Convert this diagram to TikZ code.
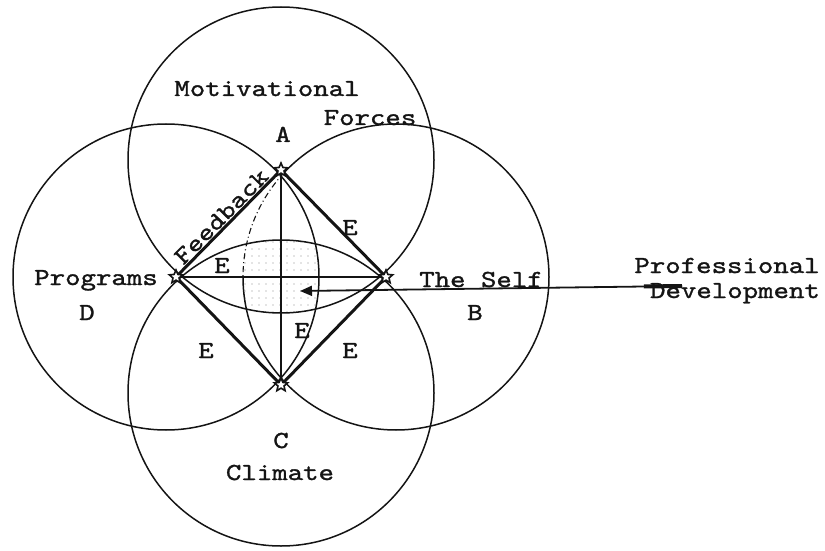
\documentclass[tikz,border=0pt]{standalone}
\usepackage{fontspec}
\setmonofont[FakeStretch=1.2, FakeBold=1.2]{lmmono10-regular.otf}
\usepackage{tikz}
\usetikzlibrary{shapes.geometric, arrows.meta, calc, patterns.meta}
\definecolor{inkblack}{RGB}{20, 20, 20}
\definecolor{stipple}{RGB}{140, 140, 140}
\tikzstyle{tlabel} = [
    font=\ttfamily\fontsize{24.5}{26}\selectfont,
    text=inkblack,
    inner sep=1pt
]
\tikzstyle{vstar} = [
    star,
    star points=5,
    star point ratio=2.2,
    minimum size=14pt,
    inner sep=0pt,
    draw=inkblack,
    line width=1.6pt,
    fill=white
]
\tikzstyle{ring} = [line width=1.5pt, draw=inkblack]
\tikzstyle{edge} = [line width=3pt, draw=inkblack]
\tikzstyle{axis} = [line width=1.8pt, draw=inkblack]

\begin{document}
\begin{tikzpicture}[x=1pt, y=1pt]
    \useasboundingbox (0,0) rectangle (825,550);
    % Vertices
    \coordinate (A) at (281,380);
    \coordinate (B) at (386,273);
    \coordinate (C) at (281,165);
    \coordinate (D) at (176,273);
    \coordinate (hub) at (300,259);
    \coordinate (pdend) at (682,264);
    % Circle centres
    \coordinate (ctop) at (281,390);
    \coordinate (cbot) at (281,157);
    \coordinate (clft) at (166,273);
    \coordinate (crgt) at (396,273);

    % Stipple in the middle
    \begin{scope}
        \clip (ctop) circle[radius=153];
        \clip (cbot) circle[radius=153];
        \clip (clft) circle[radius=153];
        \clip (crgt) circle[radius=153];
        \fill[pattern={Dots[distance=7pt, radius=0.7pt]}, pattern color=stipple]
            (230,220) rectangle (330,330);
    \end{scope}

    % Circles
    \draw[ring] (ctop) circle[radius=153];
    \draw[ring] (cbot) circle[radius=153];
    \draw[ring] (clft) circle[radius=153];
    \draw[ring] (crgt) ++(180:153) arc[start angle=180, end angle=497, radius=153];
    \draw[ring, line width=1.1pt, dash pattern=on 6pt off 3pt on 1pt off 3pt]
        (crgt) ++(137:153) arc[start angle=137, end angle=180, radius=153];

    % Axes
    \draw[axis] (D) -- (B);
    \draw[axis] (A) -- (C);

    % Diamond
    \draw[edge] (D) -- node[tlabel, midway, above, sloped] (fb) {Feedback} (A);
    \draw[edge] (A) -- (B);
    \draw[edge] (B) -- (C);
    \draw[edge] (C) -- (D);

    % Professional development
    \draw[axis, {Triangle[length=12pt, width=10pt]}-] (hub) -- (pdend);
    \draw[line width=4pt, draw=inkblack] ($(hub)!0.9!(pdend)$) -- (pdend);

    % Stars
    \foreach \v in {A,B,C,D}
        \node[vstar] (s\v) at (\v) {};

    % Labels
    \node[tlabel, anchor=base] (lmot) at (267,454) {Motivational};
    \node[tlabel, anchor=base] (lfor) at (370,425) {Forces};
    \node[tlabel, anchor=base] (la) at (283,408) {A};
    \node[tlabel, anchor=base] (lprog) at (96,265) {Programs};
    \node[tlabel, anchor=base] (ld) at (87,230) {D};
    \node[tlabel, anchor=base] (lself) at (481,263) {The Self};
    \node[tlabel, anchor=base] (lb) at (475,230) {B};
    \node[tlabel, anchor=base] (lc) at (281,102) {C};
    \node[tlabel, anchor=base] (lclim) at (280,70) {Climate};
    \node[tlabel, anchor=base] (lprof) at (727,277) {Professional};
    \node[tlabel, anchor=base] (ldev) at (735,252) {Development};
    \node[tlabel, anchor=base] (eab) at (350,315) {E};
    \node[tlabel, anchor=base] (edc) at (206,192) {E};
    \node[tlabel, anchor=base] (ebc) at (350,192) {E};
    \node[tlabel, anchor=base] (edb) at (222,277) {E};
    \node[tlabel, anchor=base] (eac) at (302,212) {E};
\end{tikzpicture}
\end{document}
